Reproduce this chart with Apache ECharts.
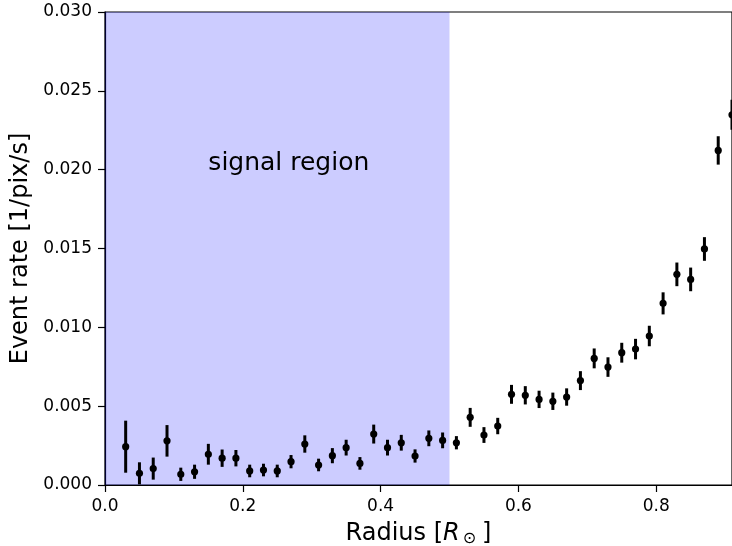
<!DOCTYPE html>
<html>
<head>
<meta charset="utf-8">
<script src="https://cdn.jsdelivr.net/npm/echarts@6/dist/echarts.min.js"></script>
<style>
  html, body { margin: 0; padding: 0; background: #fff; overflow: hidden; }
  #chart { width: 732px; height: 546px; }
</style>
</head>
<body>
<div id="chart"></div>
<script>
// Radial bins (solar radii)
const radius = [0.03, 0.05, 0.07, 0.09, 0.11, 0.13, 0.15, 0.17, 0.19, 0.21,
                0.23, 0.25, 0.27, 0.29, 0.31, 0.33, 0.35, 0.37, 0.39, 0.41,
                0.43, 0.45, 0.47, 0.49, 0.51, 0.53, 0.55, 0.57, 0.59, 0.61,
                0.63, 0.65, 0.67, 0.69, 0.71, 0.73, 0.75, 0.77, 0.79, 0.81,
                0.83, 0.85, 0.87, 0.89, 0.91];
// Event rate per bin [1/pix/s]
const rate = [0.00243, 0.00074, 0.00104, 0.00280, 0.00068, 0.00084, 0.00195, 0.00170, 0.00170, 0.00089,
              0.00095, 0.00089, 0.00148, 0.00260, 0.00127, 0.00186, 0.00237, 0.00137, 0.00323, 0.00237,
              0.00268, 0.00184, 0.00296, 0.00283, 0.00268, 0.00429, 0.00317, 0.00374, 0.00575, 0.00569,
              0.00543, 0.00531, 0.00558, 0.00662, 0.00803, 0.00748, 0.00839, 0.00862, 0.00945, 0.01152,
              0.01336, 0.01304, 0.01497, 0.02122, 0.02348];
// 1-sigma uncertainty per bin
const rateErr = [0.00165, 0.00070, 0.00070, 0.00100, 0.00042, 0.00045, 0.00066, 0.00055, 0.00052, 0.00040,
                 0.00040, 0.00040, 0.00042, 0.00055, 0.00040, 0.00048, 0.00050, 0.00040, 0.00060, 0.00050,
                 0.00050, 0.00042, 0.00050, 0.00050, 0.00042, 0.00060, 0.00050, 0.00052, 0.00060, 0.00058,
                 0.00055, 0.00055, 0.00055, 0.00060, 0.00063, 0.00062, 0.00063, 0.00065, 0.00065, 0.00070,
                 0.00075, 0.00075, 0.00075, 0.00090, 0.00095];
// Signal region extent and its label
const signalRegion = [0.0, 0.5];
const signalLabel = 'signal region';
const signalLabelPos = [0.15, 0.02];

const xTicks = [0.0, 0.2, 0.4, 0.6, 0.8];
const yTicks = [0.000, 0.005, 0.010, 0.015, 0.020, 0.025, 0.030];

const FONT = 'DejaVu Sans';
const chart = echarts.init(document.getElementById('chart'), null, { renderer: 'canvas', width: 732, height: 546 });

const points = radius.map((r, i) => [r, rate[i], rateErr[i]]);

chart.setOption({
  animation: false,
  backgroundColor: '#ffffff',
  grid: {
    left: 105, right: 0, top: 12, bottom: 61,
    outerBoundsMode: 'none',
    containLabel: false,
    show: true, borderColor: '#000', borderWidth: 1.2, backgroundColor: 'transparent'
  },
  xAxis: {
    type: 'value', min: 0, max: 0.91, interval: 0.2,
    name: '{a|Radius [}{r|R}{s|⊙}{a|]}',
    nameLocation: 'middle', nameGap: 35,
    nameTextStyle: {
      rich: {
        a: { fontFamily: FONT, fontSize: 24, color: '#000' },
        r: { fontFamily: FONT, fontSize: 24, fontStyle: 'italic', color: '#000' },
        s: { fontFamily: FONT, fontSize: 16, color: '#000', padding: [11, 6, 0, 3] }
      }
    },
    axisLine: { show: true, onZero: false, lineStyle: { color: '#000', width: 1.2 } },
    axisTick: { show: true, inside: false, length: 7, lineStyle: { color: '#000', width: 1.2 },
                customValues: xTicks },
    axisLabel: { show: true, margin: 13, fontFamily: FONT, fontSize: 17, color: '#000',
                 customValues: xTicks, formatter: v => v.toFixed(1) },
    splitLine: { show: false }
  },
  yAxis: {
    type: 'value', min: 0, max: 0.03, interval: 0.005,
    name: 'Event rate [1/pix/s]',
    nameLocation: 'middle', nameGap: 68,
    nameTextStyle: { fontFamily: FONT, fontSize: 24, color: '#000' },
    axisLine: { show: true, onZero: false, lineStyle: { color: '#000', width: 1.2 } },
    axisTick: { show: true, inside: false, length: 7, lineStyle: { color: '#000', width: 1.2 },
                customValues: yTicks },
    axisLabel: { show: true, margin: 13, fontFamily: FONT, fontSize: 17, color: '#000',
                 customValues: yTicks, formatter: v => v.toFixed(3) },
    splitLine: { show: false }
  },
  series: [
    {
      // shaded signal region with its label
      type: 'custom',
      silent: true,
      clip: true,
      z: 1,
      data: [[signalRegion[0], signalRegion[1]]],
      renderItem: function (params, api) {
        const x0 = api.coord([api.value(0), 0.03])[0];
        const x1 = api.coord([api.value(1), 0.03])[0];
        const cs = params.coordSys;
        const lp = api.coord(signalLabelPos);
        return {
          type: 'group',
          children: [
            { type: 'rect', shape: { x: x0, y: cs.y, width: x1 - x0, height: cs.height },
              style: { fill: 'rgba(0,0,255,0.2)' } },
            { type: 'text', x: lp[0], y: lp[1] + 6,
              style: { text: signalLabel, fontFamily: FONT, fontSize: 25, fill: '#000',
                       align: 'left', verticalAlign: 'bottom' } }
          ]
        };
      }
    },
    {
      // data points with vertical error bars
      type: 'custom',
      clip: false,
      z: 3,
      data: points,
      renderItem: function (params, api) {
        const x = api.value(0), y = api.value(1), e = api.value(2);
        const c = api.coord([x, y]);
        const lo = api.coord([x, y - e]);
        const hi = api.coord([x, y + e]);
        return {
          type: 'group',
          children: [
            { type: 'line', shape: { x1: lo[0], y1: lo[1], x2: hi[0], y2: hi[1] },
              style: { stroke: '#000', lineWidth: 3 } },
            { type: 'circle', shape: { cx: c[0], cy: c[1], r: 3.6 },
              style: { fill: '#000' } }
          ]
        };
      }
    }
  ]
});
</script>
</body>
</html>
